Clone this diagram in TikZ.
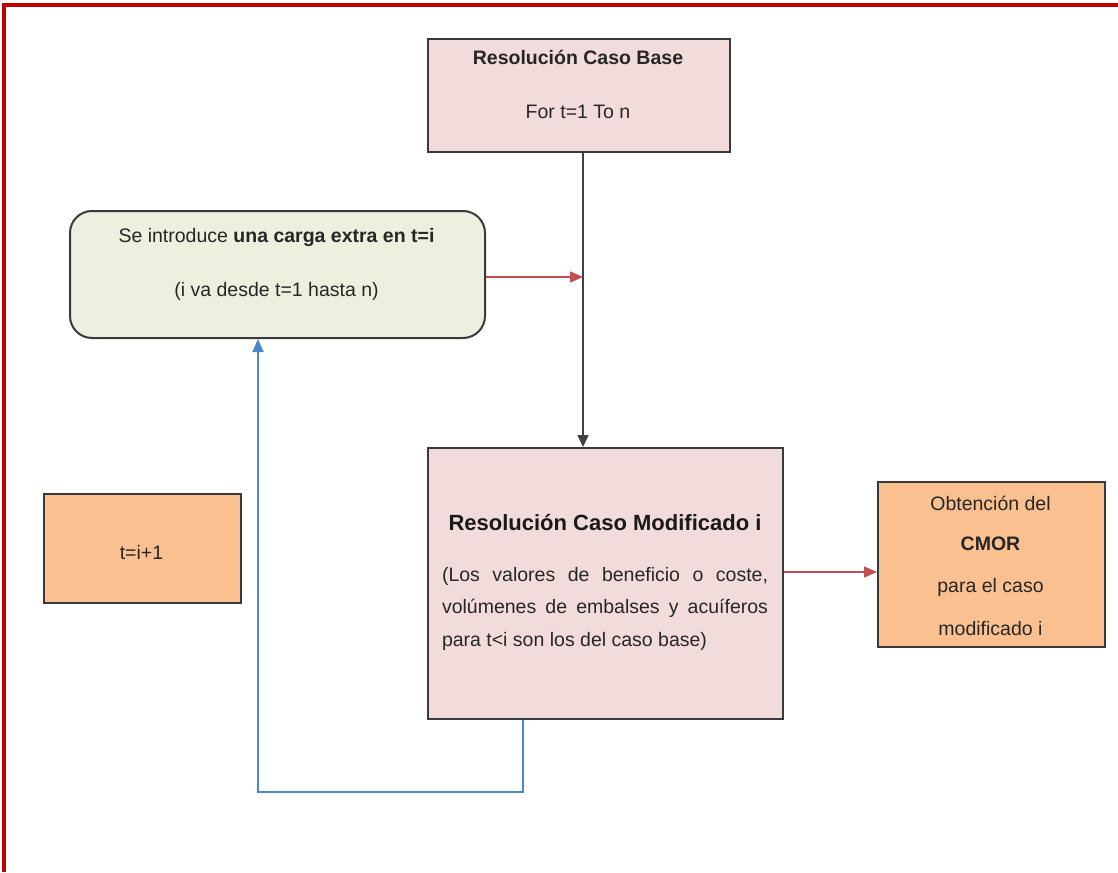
\documentclass[tikz,border=0pt]{standalone}
\usepackage{fontspec}
\setmainfont{Liberation Sans}
\usetikzlibrary{arrows.meta}
\definecolor{framered}{HTML}{C00000}
\definecolor{pinkfill}{HTML}{F2DCDB}
\definecolor{greenfill}{HTML}{EBF1DE}
\definecolor{orangefill}{HTML}{FAC090}
\definecolor{boxline}{HTML}{3A3A3A}
\definecolor{arrred}{HTML}{C0504D}
\definecolor{arrblue}{HTML}{4A86C8}
\tikzset{
  box/.style={draw=boxline, line width=2pt, inner sep=0pt},
  txt/.style={font=\fontsize{19.5}{24}\selectfont, inner sep=0pt, text=black!85},
  title/.style={font=\fontsize{22}{26}\selectfont\bfseries, inner sep=0pt, text=black!90},
  redarrow/.style={draw=arrred, line width=1.5pt, -{Triangle[length=13pt,width=11pt]}},
  blackarrow/.style={draw=black!75, line width=1.7pt, -{Triangle[length=12pt,width=11pt]}},
  bluearrow/.style={draw=arrblue, line width=1.8pt, -{Triangle[length=13pt,width=11pt]}},
}
\begin{document}
\begin{tikzpicture}[x=1pt,y=-1pt]
\useasboundingbox (0,0) rectangle (1118,872);
% frame
\draw[framered, line width=3.5pt] (4,872) -- (4,5) -- (1118,5);
% boxes
\node[box, fill=pinkfill, minimum width=302pt, minimum height=113pt, anchor=north west] (base) at (427,38) {};
\node[txt, font=\fontsize{19.5}{24}\selectfont\bfseries] (baseT) at (578,57) {Resolución Caso Base};
\node[txt] (baseS) at (578,112) {For t=1 To n};

\node[box, fill=greenfill, rounded corners=22pt, minimum width=415pt, minimum height=127pt, anchor=north west] (green) at (69,210) {};
\node[txt] (greenT) at (276.5,237) {Se introduce \textbf{una carga extra en t=i}};
\node[txt] (greenS) at (276.5,291) {(i va desde t=1 hasta n)};

\node[box, fill=pinkfill, minimum width=355pt, minimum height=271pt, anchor=north west] (mod) at (427,447) {};
\node[title] (modT) at (605,523) {Resolución Caso Modificado i};
\node[txt, text width=326pt, align=justify, anchor=north, font=\fontsize{19.5}{32.5}\selectfont] (modS) at (605,567)
  {(Los valores de beneficio o coste, volúmenes de embalses y acuíferos para t<i son los del caso base)};

\node[box, fill=orangefill, minimum width=227pt, minimum height=165pt, anchor=north west] (cmor) at (877,481) {};
\node[txt] (c1) at (990.5,503) {Obtención del};
\node[txt, font=\fontsize{19.5}{24}\selectfont\bfseries] (c2) at (990.5,544) {CMOR};
\node[txt] (c3) at (990.5,587) {para el caso};
\node[txt] (c4) at (990.5,629) {modificado i};

\node[box, fill=orangefill, minimum width=197pt, minimum height=109pt, anchor=north west] (tbox) at (43,493) {};
\node[txt] (tT) at (141.5,553) {t=i+1};

% connectors
\coordinate (jx) at (583,0);
\coordinate (bx) at (523,0);
\coordinate (lx) at (258,0);
\coordinate (by) at (0,792);
\draw[blackarrow] (base.south -| jx) -- (mod.north -| jx);
\draw[redarrow] (green.east |- 0,277) -- (jx |- 0,277);
\draw[redarrow] (mod.east |- 0,572) -- (cmor.west |- 0,572);
\draw[bluearrow] (mod.south -| bx) -- (bx |- by) -- (lx |- by) -- (green.south -| lx);
\end{tikzpicture}
\end{document}
